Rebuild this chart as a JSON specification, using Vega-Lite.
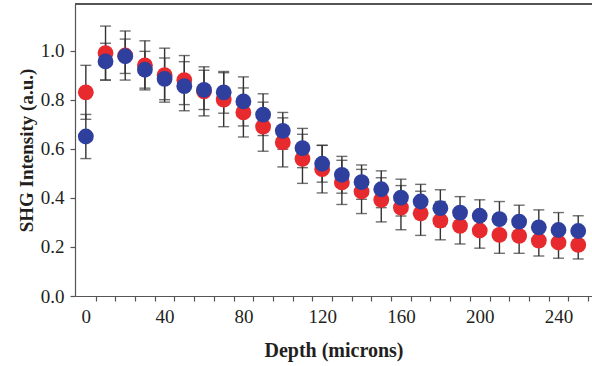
{
  "$schema": "https://vega.github.io/schema/vega-lite/v6.json",
  "width": 517,
  "height": 292,
  "autosize": {"type": "none"},
  "padding": {"left": 75, "top": 4, "right": 0, "bottom": 70},
  "background": "white",
  "config": {
    "view": {"stroke": null},
    "axis": {
      "labelFont": "Liberation Serif",
      "labelFontSize": 19,
      "labelColor": "#231f20",
      "titleFont": "Liberation Serif",
      "titleFontSize": 19,
      "titleFontWeight": "bold",
      "titleColor": "#231f20",
      "domainColor": "#555555",
      "tickColor": "#555555",
      "domainWidth": 1.2,
      "tickWidth": 1.2,
      "grid": false
    }
  },
  "data": {
    "values": [
      {"depth": 0, "group": "Series 1", "value": 0.83, "lo": 0.72, "hi": 0.94},
      {"depth": 10, "group": "Series 1", "value": 0.99, "lo": 0.88, "hi": 1.10},
      {"depth": 20, "group": "Series 1", "value": 0.98, "lo": 0.88, "hi": 1.08},
      {"depth": 30, "group": "Series 1", "value": 0.94, "lo": 0.84, "hi": 1.04},
      {"depth": 40, "group": "Series 1", "value": 0.90, "lo": 0.79, "hi": 1.01},
      {"depth": 50, "group": "Series 1", "value": 0.88, "lo": 0.78, "hi": 0.98},
      {"depth": 60, "group": "Series 1", "value": 0.834, "lo": 0.734, "hi": 0.934},
      {"depth": 70, "group": "Series 1", "value": 0.80, "lo": 0.69, "hi": 0.91},
      {"depth": 80, "group": "Series 1", "value": 0.748, "lo": 0.648, "hi": 0.848},
      {"depth": 90, "group": "Series 1", "value": 0.69, "lo": 0.59, "hi": 0.79},
      {"depth": 100, "group": "Series 1", "value": 0.626, "lo": 0.526, "hi": 0.726},
      {"depth": 110, "group": "Series 1", "value": 0.559, "lo": 0.459, "hi": 0.659},
      {"depth": 120, "group": "Series 1", "value": 0.517, "lo": 0.42, "hi": 0.614},
      {"depth": 130, "group": "Series 1", "value": 0.463, "lo": 0.373, "hi": 0.553},
      {"depth": 140, "group": "Series 1", "value": 0.426, "lo": 0.336, "hi": 0.516},
      {"depth": 150, "group": "Series 1", "value": 0.392, "lo": 0.302, "hi": 0.482},
      {"depth": 160, "group": "Series 1", "value": 0.36, "lo": 0.27, "hi": 0.45},
      {"depth": 170, "group": "Series 1", "value": 0.337, "lo": 0.247, "hi": 0.427},
      {"depth": 180, "group": "Series 1", "value": 0.307, "lo": 0.229, "hi": 0.385},
      {"depth": 190, "group": "Series 1", "value": 0.286, "lo": 0.212, "hi": 0.36},
      {"depth": 200, "group": "Series 1", "value": 0.267, "lo": 0.195, "hi": 0.339},
      {"depth": 210, "group": "Series 1", "value": 0.249, "lo": 0.174, "hi": 0.324},
      {"depth": 220, "group": "Series 1", "value": 0.245, "lo": 0.174, "hi": 0.316},
      {"depth": 230, "group": "Series 1", "value": 0.226, "lo": 0.163, "hi": 0.289},
      {"depth": 240, "group": "Series 1", "value": 0.218, "lo": 0.154, "hi": 0.282},
      {"depth": 250, "group": "Series 1", "value": 0.208, "lo": 0.151, "hi": 0.265},
      {"depth": 0, "group": "Series 2", "value": 0.65, "lo": 0.56, "hi": 0.74},
      {"depth": 10, "group": "Series 2", "value": 0.956, "lo": 0.88, "hi": 1.03},
      {"depth": 20, "group": "Series 2", "value": 0.977, "lo": 0.907, "hi": 1.047},
      {"depth": 30, "group": "Series 2", "value": 0.922, "lo": 0.847, "hi": 0.997},
      {"depth": 40, "group": "Series 2", "value": 0.885, "lo": 0.80, "hi": 0.97},
      {"depth": 50, "group": "Series 2", "value": 0.855, "lo": 0.755, "hi": 0.955},
      {"depth": 60, "group": "Series 2", "value": 0.84, "lo": 0.76, "hi": 0.92},
      {"depth": 70, "group": "Series 2", "value": 0.83, "lo": 0.745, "hi": 0.915},
      {"depth": 80, "group": "Series 2", "value": 0.793, "lo": 0.693, "hi": 0.893},
      {"depth": 90, "group": "Series 2", "value": 0.739, "lo": 0.654, "hi": 0.824},
      {"depth": 100, "group": "Series 2", "value": 0.673, "lo": 0.598, "hi": 0.748},
      {"depth": 110, "group": "Series 2", "value": 0.603, "lo": 0.523, "hi": 0.683},
      {"depth": 120, "group": "Series 2", "value": 0.539, "lo": 0.464, "hi": 0.614},
      {"depth": 130, "group": "Series 2", "value": 0.494, "lo": 0.419, "hi": 0.569},
      {"depth": 140, "group": "Series 2", "value": 0.464, "lo": 0.394, "hi": 0.534},
      {"depth": 150, "group": "Series 2", "value": 0.435, "lo": 0.36, "hi": 0.51},
      {"depth": 160, "group": "Series 2", "value": 0.401, "lo": 0.326, "hi": 0.476},
      {"depth": 170, "group": "Series 2", "value": 0.385, "lo": 0.315, "hi": 0.455},
      {"depth": 180, "group": "Series 2", "value": 0.358, "lo": 0.283, "hi": 0.433},
      {"depth": 190, "group": "Series 2", "value": 0.34, "lo": 0.275, "hi": 0.405},
      {"depth": 200, "group": "Series 2", "value": 0.327, "lo": 0.262, "hi": 0.392},
      {"depth": 210, "group": "Series 2", "value": 0.313, "lo": 0.241, "hi": 0.385},
      {"depth": 220, "group": "Series 2", "value": 0.303, "lo": 0.236, "hi": 0.37},
      {"depth": 230, "group": "Series 2", "value": 0.28, "lo": 0.209, "hi": 0.351},
      {"depth": 240, "group": "Series 2", "value": 0.269, "lo": 0.198, "hi": 0.34},
      {"depth": 250, "group": "Series 2", "value": 0.265, "lo": 0.203, "hi": 0.327}
    ]
  },
  "encoding": {
    "x": {
      "field": "depth", "type": "quantitative",
      "scale": {"domain": [-5.5, 257], "nice": false, "zero": false},
      "title": "Depth (microns)",
      "axis": {
        "values": [0, 5, 15, 25, 35, 40, 45, 55, 65, 75, 80, 85, 95, 105, 115, 120, 125, 135, 145, 155, 160, 165, 175, 185, 195, 200, 205, 215, 225, 235, 240, 245, 255],
        "labelExpr": "datum.value % 40 == 0 ? datum.label : ''",
        "tickOpacity": {"condition": {"test": "datum.value % 10 == 5", "value": 1}, "value": 0},
        "tickSize": 5,
        "labelPadding": 6,
        "labelFlush": false,
        "labelOverlap": false,
        "titlePadding": 14,
        "titleFontSize": 20
      }
    }
  },
  "layer": [
    {
      "mark": {"type": "rule", "color": "#555555", "strokeWidth": 1.2},
      "encoding": {
        "x": null,
        "y": {"datum": 1.19, "type": "quantitative", "scale": {"domain": [0, 1.19], "nice": false, "zero": false}, "title": "SHG Intensity (a.u.)",
          "axis": {"values": [0, 0.2, 0.4, 0.6, 0.8, 1.0], "format": ".1f", "tickSize": 5, "labelPadding": 6, "titlePadding": 4}}
      }
    },
    {
      "mark": {"type": "rule", "color": "#333333", "strokeWidth": 1.4},
      "encoding": {
        "y": {
          "field": "lo", "type": "quantitative",
          "scale": {"domain": [0, 1.19], "nice": false, "zero": false},
          "title": "SHG Intensity (a.u.)",
          "axis": {"values": [0, 0.2, 0.4, 0.6, 0.8, 1.0], "format": ".1f", "tickSize": 5, "labelPadding": 6, "titlePadding": 4}
        },
        "y2": {"field": "hi"}
      }
    },
    {
      "mark": {"type": "tick", "orient": "horizontal", "color": "#333333", "thickness": 1.4, "size": 11},
      "encoding": {
        "y": {"field": "lo", "type": "quantitative", "title": "SHG Intensity (a.u.)",
          "axis": {"values": [0, 0.2, 0.4, 0.6, 0.8, 1.0], "format": ".1f", "tickSize": 5, "labelPadding": 6, "titlePadding": 4}}
      }
    },
    {
      "mark": {"type": "tick", "orient": "horizontal", "color": "#333333", "thickness": 1.4, "size": 11},
      "encoding": {
        "y": {"field": "hi", "type": "quantitative", "title": "SHG Intensity (a.u.)",
          "axis": {"values": [0, 0.2, 0.4, 0.6, 0.8, 1.0], "format": ".1f", "tickSize": 5, "labelPadding": 6, "titlePadding": 4}}
      }
    },
    {
      "mark": {"type": "point", "filled": true, "opacity": 1, "size": 250},
      "encoding": {
        "y": {"field": "value", "type": "quantitative", "title": "SHG Intensity (a.u.)",
          "axis": {"values": [0, 0.2, 0.4, 0.6, 0.8, 1.0], "format": ".1f", "tickSize": 5, "labelPadding": 6, "titlePadding": 4}},
        "color": {
          "field": "group", "type": "nominal",
          "scale": {"domain": ["Series 1", "Series 2"], "range": ["#e62a2e", "#2e3f9e"]},
          "legend": null
        },
        "order": {"field": "group", "type": "nominal"}
      }
    }
  ]
}
